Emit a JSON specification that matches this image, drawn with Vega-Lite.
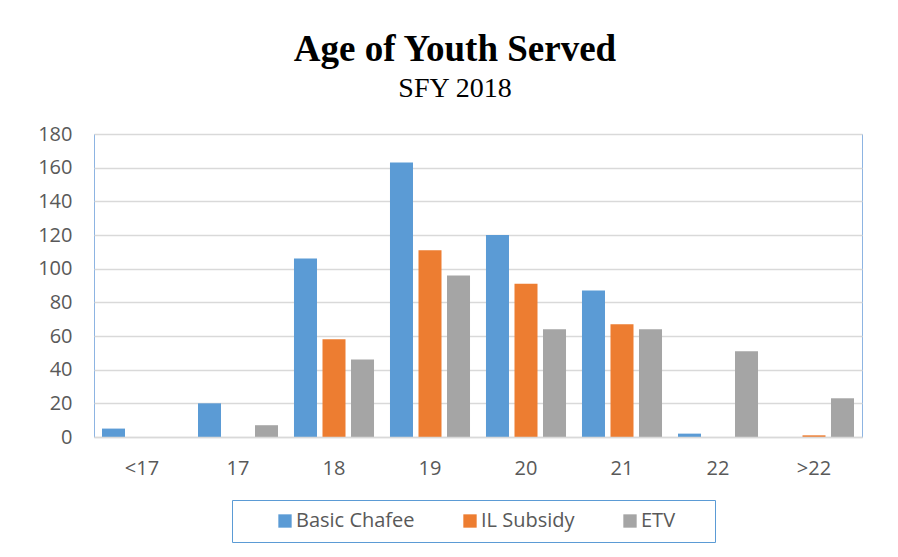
{
  "$schema": "https://vega.github.io/schema/vega-lite/v6.json",
  "width": 768,
  "height": 303,
  "autosize": {"type": "none"},
  "padding": {"left": 94, "top": 134, "right": 36, "bottom": 120},
  "background": "white",
  "title": {
    "text": "Age of Youth Served",
    "subtitle": "SFY 2018",
    "font": "Liberation Serif",
    "fontSize": 37,
    "fontWeight": "bold",
    "subtitleFont": "Liberation Serif",
    "subtitleFontSize": 28,
    "color": "#000000",
    "subtitleColor": "#000000",
    "anchor": "middle",
    "dx": -23,
    "offset": 20,
    "subtitlePadding": 6
  },
  "data": {
    "values": [
      {"age": "<17", "program": "Basic Chafee", "count": 5},
      {"age": "<17", "program": "IL Subsidy", "count": 0},
      {"age": "<17", "program": "ETV", "count": 0},
      {"age": "17", "program": "Basic Chafee", "count": 20},
      {"age": "17", "program": "IL Subsidy", "count": 0},
      {"age": "17", "program": "ETV", "count": 7},
      {"age": "18", "program": "Basic Chafee", "count": 106},
      {"age": "18", "program": "IL Subsidy", "count": 58},
      {"age": "18", "program": "ETV", "count": 46},
      {"age": "19", "program": "Basic Chafee", "count": 163},
      {"age": "19", "program": "IL Subsidy", "count": 111},
      {"age": "19", "program": "ETV", "count": 96},
      {"age": "20", "program": "Basic Chafee", "count": 120},
      {"age": "20", "program": "IL Subsidy", "count": 91},
      {"age": "20", "program": "ETV", "count": 64},
      {"age": "21", "program": "Basic Chafee", "count": 87},
      {"age": "21", "program": "IL Subsidy", "count": 67},
      {"age": "21", "program": "ETV", "count": 64},
      {"age": "22", "program": "Basic Chafee", "count": 2},
      {"age": "22", "program": "IL Subsidy", "count": 0},
      {"age": "22", "program": "ETV", "count": 51},
      {"age": ">22", "program": "Basic Chafee", "count": 0},
      {"age": ">22", "program": "IL Subsidy", "count": 1},
      {"age": ">22", "program": "ETV", "count": 23}
    ]
  },
  "mark": {"type": "bar"},
  "encoding": {
    "x": {
      "field": "age",
      "type": "nominal",
      "sort": ["<17", "17", "18", "19", "20", "21", "22", ">22"],
      "scale": {"paddingInner": 0, "paddingOuter": 0},
      "axis": {
        "title": null,
        "labelAngle": 0,
        "domain": true,
        "domainColor": "#d9d9d9",
        "domainWidth": 1.5,
        "ticks": false,
        "labelFont": "Open Sans",
        "labelFontSize": 20,
        "labelColor": "#595959",
        "labelPadding": 21,
        "zindex": 1
      }
    },
    "xOffset": {
      "field": "program",
      "sort": ["Basic Chafee", "IL Subsidy", "ETV"],
      "scale": {"paddingInner": 0.193, "paddingOuter": 0.28}
    },
    "y": {
      "field": "count",
      "type": "quantitative",
      "scale": {"domain": [0, 180]},
      "axis": {
        "title": null,
        "values": [0, 20, 40, 60, 80, 100, 120, 140, 160, 180],
        "grid": true,
        "gridColor": "#d9d9d9",
        "gridWidth": 1.3,
        "domain": false,
        "ticks": false,
        "labelFont": "Open Sans",
        "labelFontSize": 20,
        "labelColor": "#595959",
        "labelPadding": 22
      }
    },
    "color": {
      "field": "program",
      "type": "nominal",
      "sort": ["Basic Chafee", "IL Subsidy", "ETV"],
      "scale": {
        "domain": ["Basic Chafee", "IL Subsidy", "ETV"],
        "range": ["#5b9bd5", "#ed7d31", "#a5a5a5"]
      },
      "legend": {
        "orient": "none",
        "legendX": 138,
        "legendY": 366,
        "direction": "horizontal",
        "title": "\u00a0",
        "titleOrient": "right",
        "titlePadding": 29,
        "titleFontSize": 2,
        "symbolType": "square",
        "symbolSize": 178,
        "symbolStrokeWidth": 0,
        "symbolOffset": 32,
        "labelFont": "Open Sans",
        "labelFontSize": 20,
        "labelColor": "#595959",
        "labelOffset": 1,
        "columnPadding": 13,
        "padding": 11,
        "strokeColor": "#5b9bd5",
        "fillColor": "white"
      }
    }
  },
  "config": {
    "view": {"stroke": "#8db4e2", "strokeWidth": 1}
  }
}
